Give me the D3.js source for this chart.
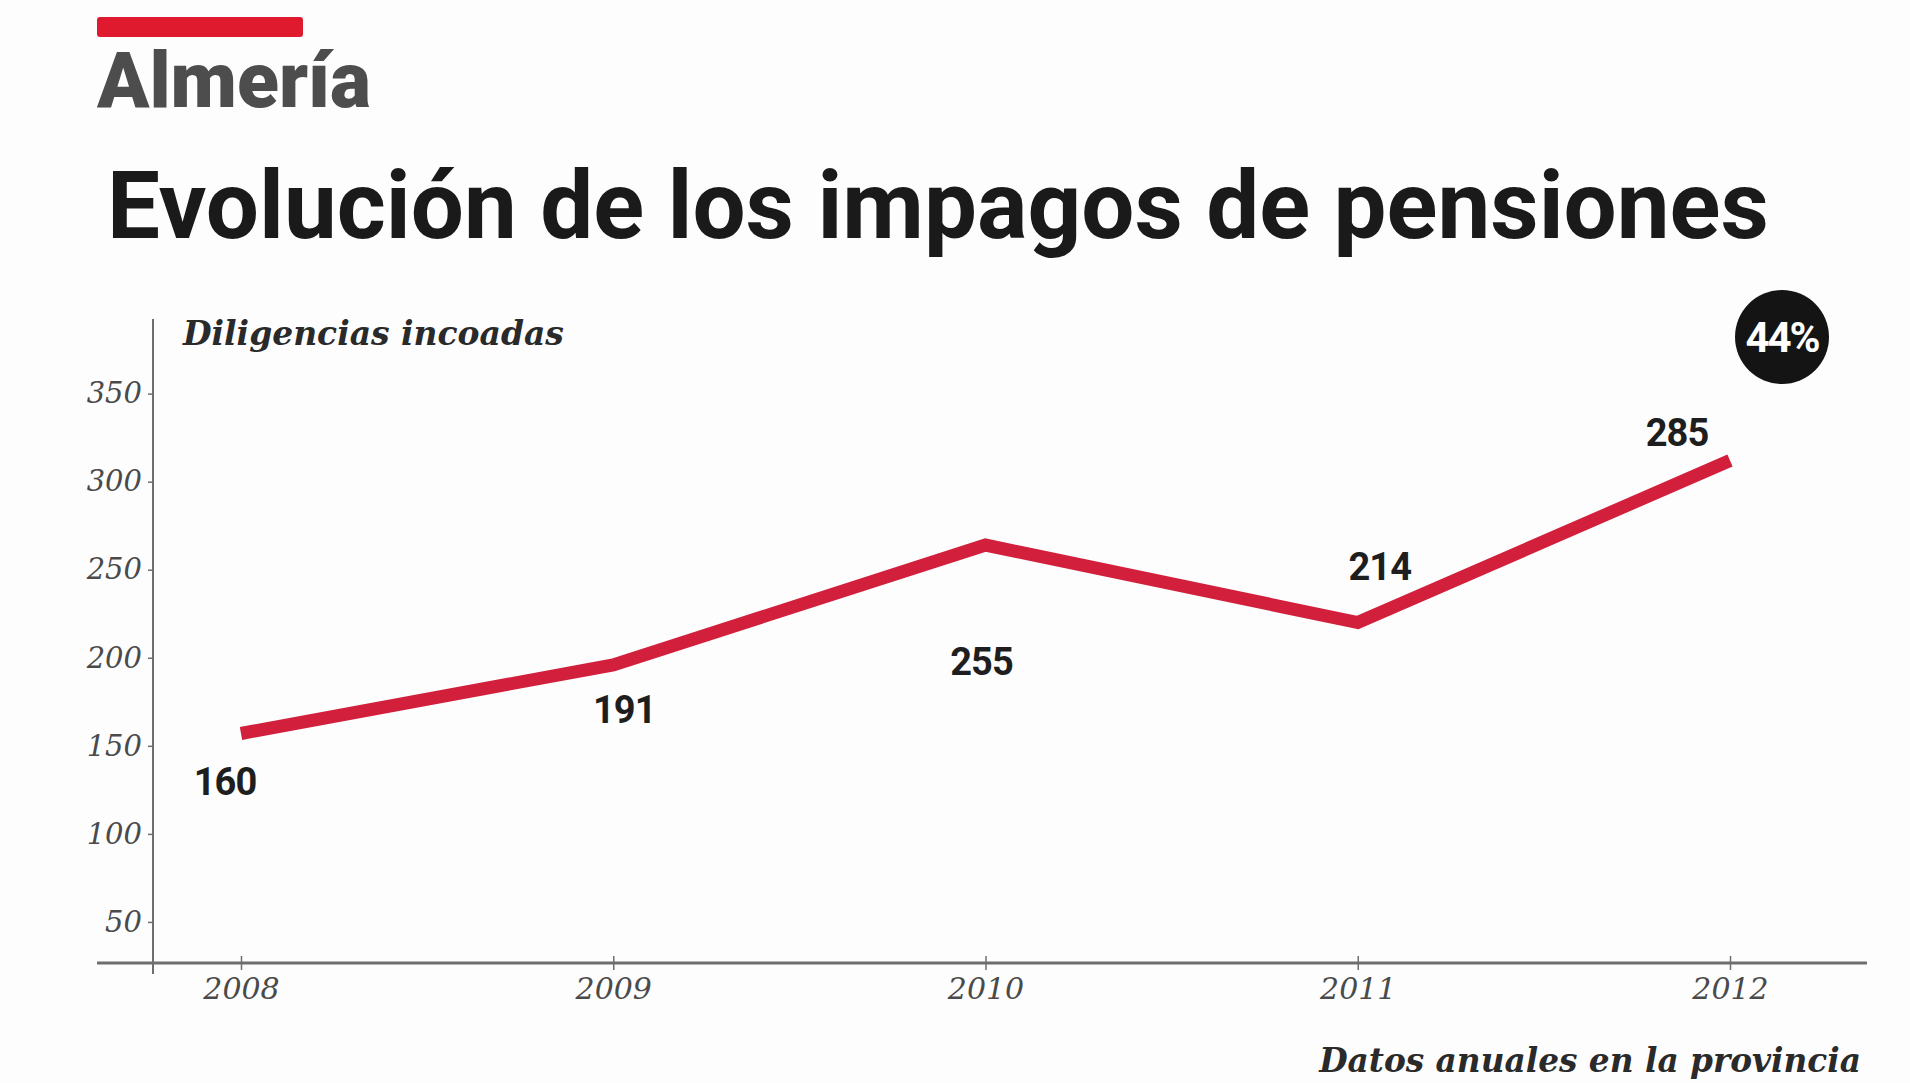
<!DOCTYPE html>
<html>
<head>
<meta charset="utf-8">
<script src="https://cdn.jsdelivr.net/npm/d3@7"></script>
<style>
  html, body { margin: 0; padding: 0; background: #fdfdfd; }
</style>
</head>
<body>
<svg id="chart"></svg>
<script>
const width = 1910;
const height = 1083;

// data
const years = [2008, 2009, 2010, 2011, 2012];
const lineValues = [157, 196, 264, 220, 312];      // where the red line sits
const labelValues = ["160", "191", "255", "214", "285"]; // printed labels
const yTicks = [50, 100, 150, 200, 250, 300, 350];
const badge = "44%";

// label placement relative to each point (layout only)
const labelOffsets = [[-16, 61], [11, 58], [-4, 130], [22, -43], [-53, -15]];

const svg = d3.select("#chart")
  .attr("width", width)
  .attr("height", height)
  .attr("viewBox", [0, 0, width, height]);

const x = d3.scaleLinear()
  .domain([2008, 2012])
  .range([241, 1730]);

const y = d3.scaleLinear()
  .domain([0, 350])
  .range([1010, 393.6]);

// fit a text to a target width by changing its font size
function fitWidth(sel, target) {
  const w = sel.node().getComputedTextLength();
  const fs = parseFloat(sel.style("font-size"));
  sel.style("font-size", (fs * target / w) + "px");
}

// ------------------ HEADER ------------------
svg.append("rect")
  .attr("x", 97).attr("y", 17)
  .attr("width", 206).attr("height", 20)
  .attr("rx", 3)
  .attr("fill", "#e01a2e");

const almeria = svg.append("text")
  .attr("x", 97).attr("y", 107)
  .attr("fill", "#4d4d4d")
  .style("font-family", "Roboto, sans-serif")
  .style("font-weight", "900")
  .style("font-size", "72px")
  .text("Almería");
fitWidth(almeria, 274);

const title = svg.append("text")
  .attr("x", 107).attr("y", 238)
  .attr("fill", "#1a1a1a")
  .style("font-family", "Roboto, sans-serif")
  .style("font-weight", "700")
  .style("font-size", "94px")
  .text("Evolución de los impagos de pensiones");
fitWidth(title, 1662);

// ------------------ AXES ------------------
const axisColor = "#6e6e6e";

svg.append("line")
  .attr("x1", 153).attr("x2", 153)
  .attr("y1", 319).attr("y2", 974)
  .attr("stroke", axisColor).attr("stroke-width", 2);

svg.append("line")
  .attr("x1", 97).attr("x2", 1867)
  .attr("y1", 963).attr("y2", 963)
  .attr("stroke", axisColor).attr("stroke-width", 3);

const yAxis = svg.append("g")
  .attr("transform", "translate(153,0)")
  .call(d3.axisLeft(y).tickValues(yTicks).tickSize(5).tickPadding(6));
yAxis.select(".domain").remove();
yAxis.selectAll(".tick line").attr("stroke", axisColor).attr("stroke-width", 1.5);
yAxis.selectAll("text")
  .attr("fill", "#4a4a4a")
  .style("font-family", "'DejaVu Serif', serif")
  .style("font-style", "italic")
  .style("font-size", "29px");

const xAxis = svg.append("g")
  .attr("transform", "translate(0,963)")
  .call(d3.axisBottom(x).tickValues(years).tickFormat(d3.format("d")).tickSize(7).tickPadding(8));
xAxis.select(".domain").remove();
xAxis.selectAll(".tick line")
  .attr("y1", -7)
  .attr("stroke", axisColor).attr("stroke-width", 1.5);
xAxis.selectAll("text")
  .attr("fill", "#4a4a4a")
  .style("font-family", "'DejaVu Serif', serif")
  .style("font-style", "italic")
  .style("font-size", "30px");

const yLabel = svg.append("text")
  .attr("x", 183).attr("y", 345)
  .attr("fill", "#2a2a2a")
  .style("font-family", "'DejaVu Serif', serif")
  .style("font-style", "italic")
  .style("font-weight", "bold")
  .style("font-size", "30px")
  .text("Diligencias incoadas");
fitWidth(yLabel, 381);

const source = svg.append("text")
  .attr("x", 1861).attr("y", 1072)
  .attr("text-anchor", "end")
  .attr("fill", "#2a2a2a")
  .style("font-family", "'DejaVu Serif', serif")
  .style("font-style", "italic")
  .style("font-weight", "bold")
  .style("font-size", "32px")
  .text("Datos anuales en la provincia");
fitWidth(source, 542);

// ------------------ LINE ------------------
const data = years.map((yr, i) => ({ year: yr, value: lineValues[i], label: labelValues[i] }));

const line = d3.line()
  .x(d => x(d.year))
  .y(d => y(d.value));

svg.append("path")
  .datum(data)
  .attr("fill", "none")
  .attr("stroke", "#d21f3c")
  .attr("stroke-width", 13)
  .attr("stroke-linejoin", "miter")
  .attr("d", line);

// ------------------ VALUE LABELS ------------------
svg.append("g")
  .selectAll("text")
  .data(data)
  .join("text")
  .attr("x", (d, i) => x(d.year) + labelOffsets[i][0])
  .attr("y", (d, i) => y(d.value) + labelOffsets[i][1])
  .attr("text-anchor", "middle")
  .attr("fill", "#1e1e1e")
  .style("font-family", "Roboto, sans-serif")
  .style("font-weight", "700")
  .style("font-size", "38px")
  .style("letter-spacing", "-1px")
  .text(d => d.label);

// ------------------ BADGE ------------------
svg.append("circle")
  .attr("cx", 1782).attr("cy", 337)
  .attr("r", 47)
  .attr("fill", "#141414");

svg.append("text")
  .attr("x", 1782).attr("y", 352)
  .attr("text-anchor", "middle")
  .attr("fill", "#fff")
  .style("font-family", "Roboto, sans-serif")
  .style("font-weight", "700")
  .style("font-size", "42px")
  .style("letter-spacing", "-2px")
  .text(badge);
</script>
</body>
</html>
